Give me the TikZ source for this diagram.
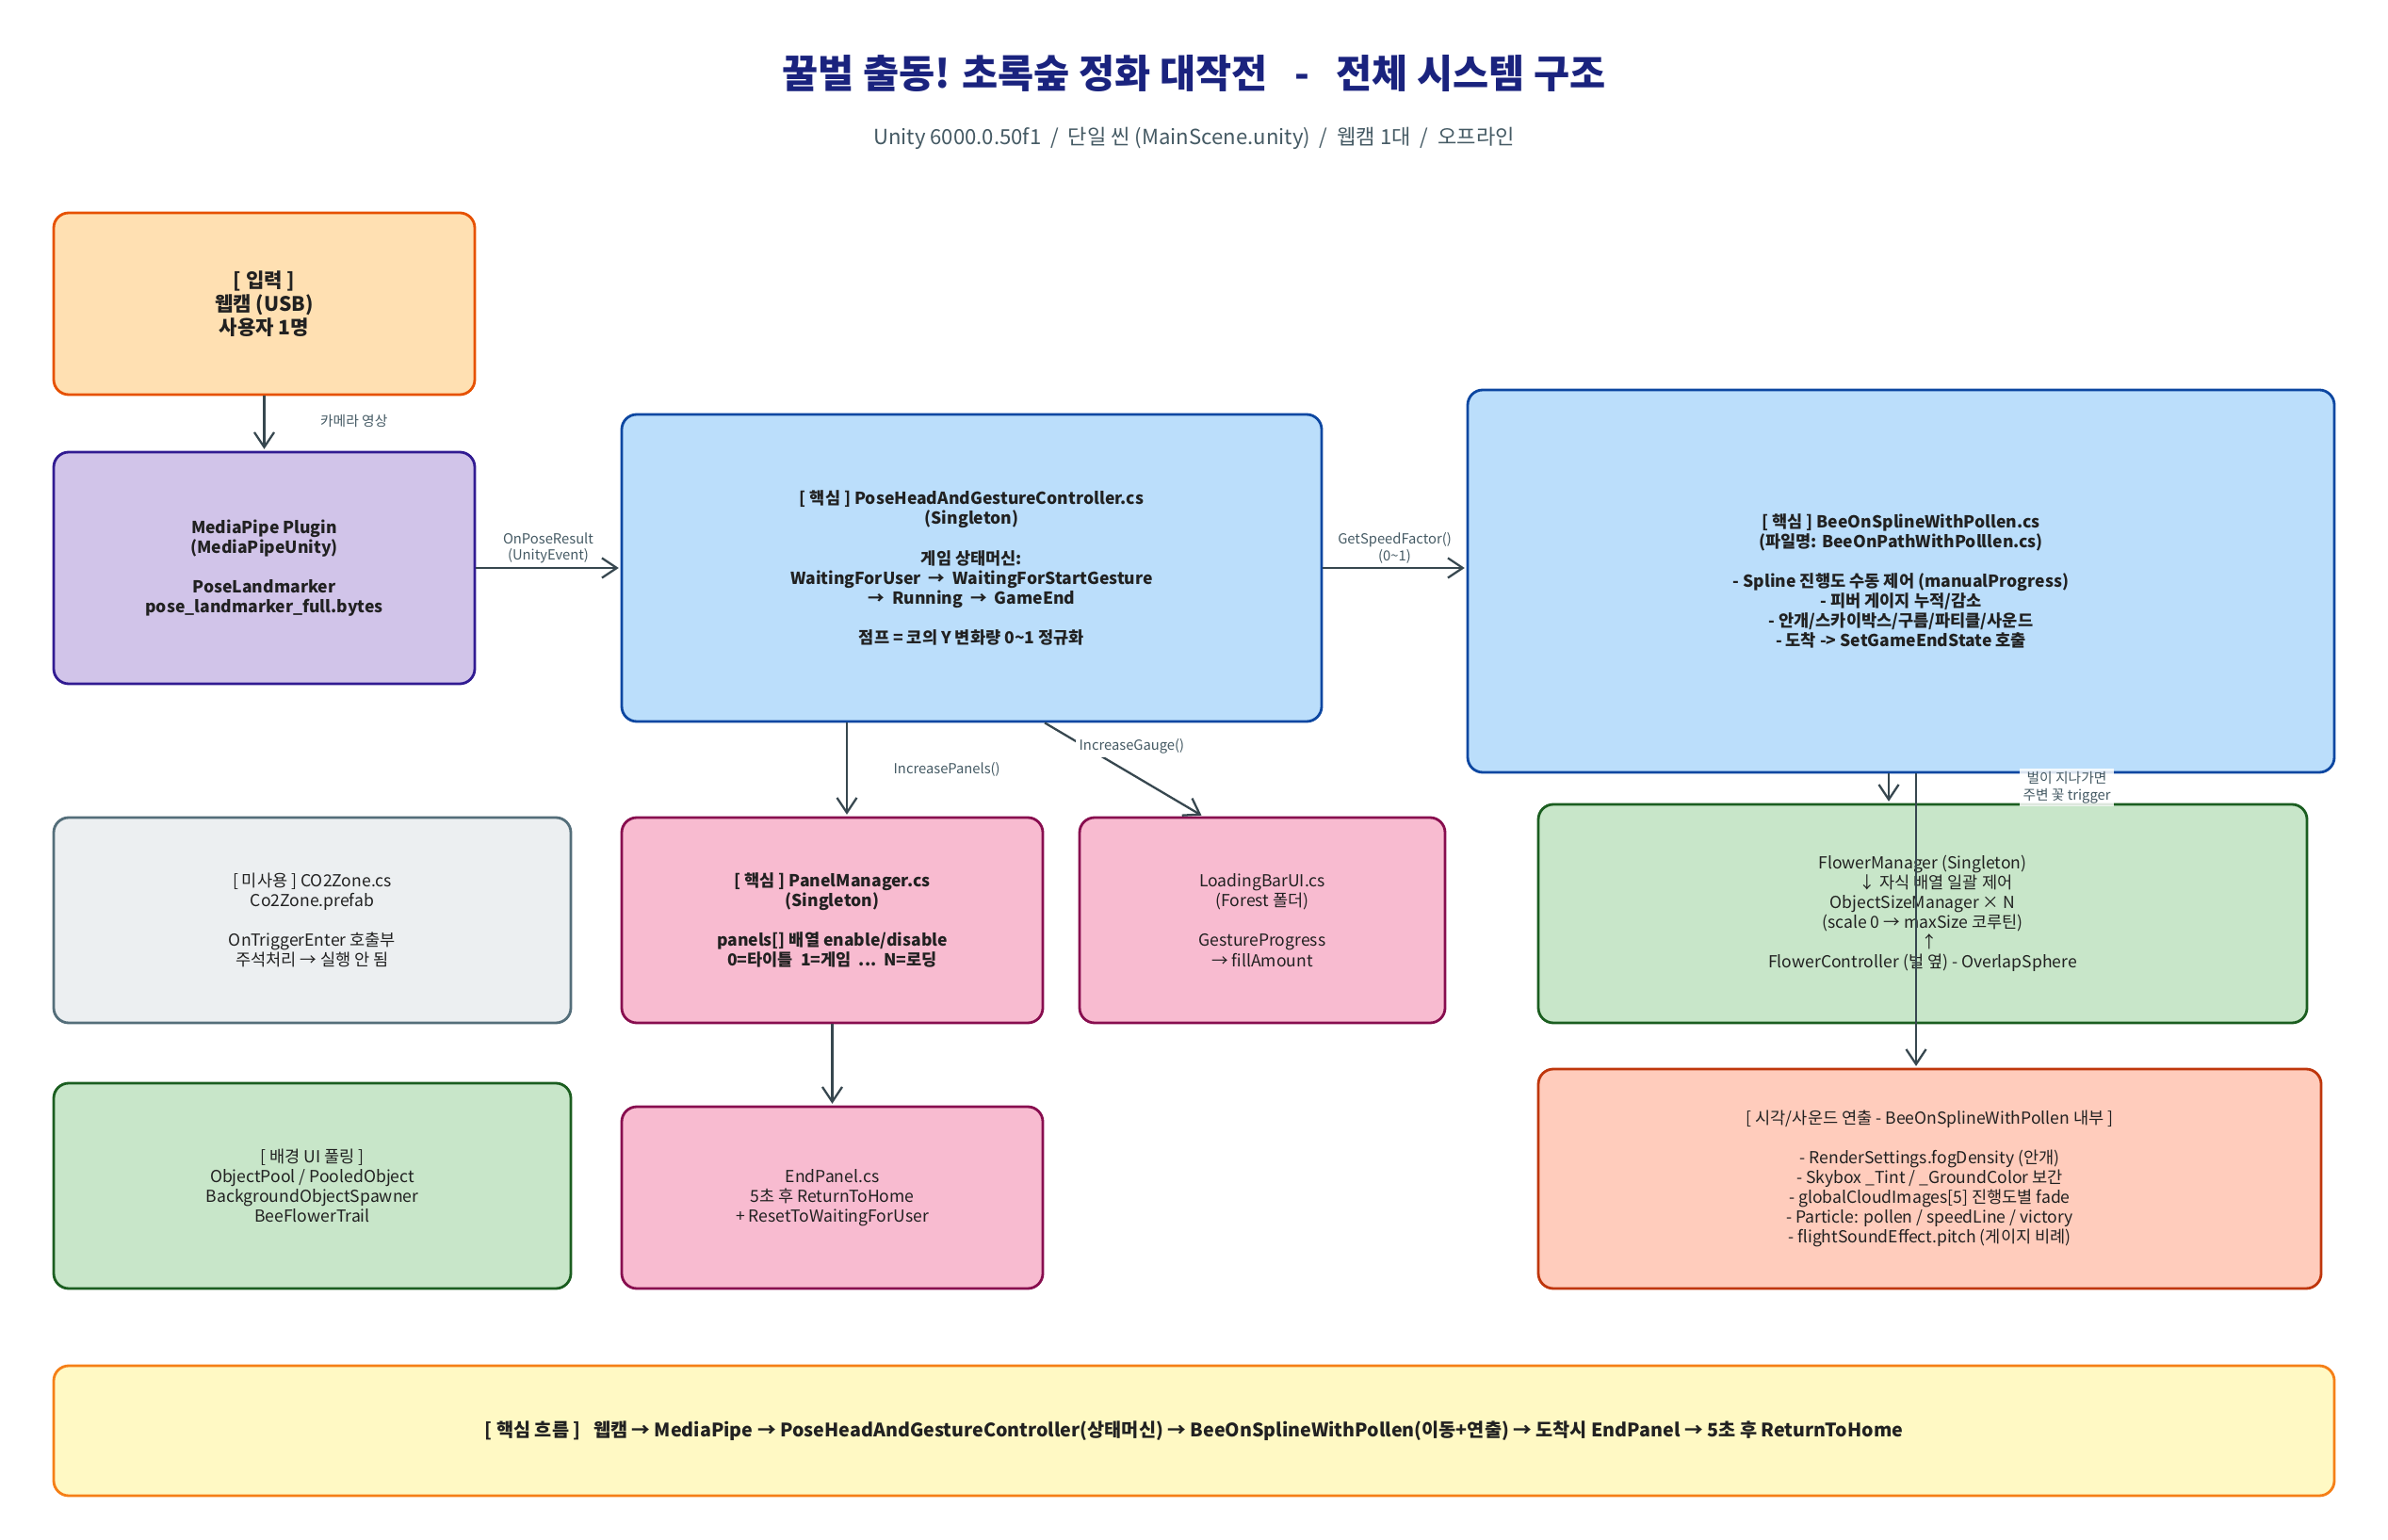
\documentclass[tikz,border=0pt]{standalone}
\usepackage{fontspec}
\setmainfont{Noto Sans CJK KR}
\usetikzlibrary{
        arrows.meta,
        calc,
        positioning
    }
\definecolor{inputfill}{HTML}{FFE0B2}
\definecolor{inputline}{HTML}{E65100}
\definecolor{mpfill}{HTML}{D1C4E9}
\definecolor{mpline}{HTML}{311B92}
\definecolor{corefill}{HTML}{BBDEFB}
\definecolor{coreline}{HTML}{0D47A1}
\definecolor{unusedfill}{HTML}{ECEFF1}
\definecolor{unusedline}{HTML}{546E7A}
\definecolor{greenfill}{HTML}{C8E6C9}
\definecolor{greenline}{HTML}{1B5E20}
\definecolor{pinkfill}{HTML}{F8BBD0}
\definecolor{pinkline}{HTML}{880E4F}
\definecolor{fxfill}{HTML}{FFCCBC}
\definecolor{fxline}{HTML}{BF360C}
\definecolor{flowfill}{HTML}{FFF9C4}
\definecolor{flowline}{HTML}{F57F17}
\definecolor{titlecol}{HTML}{1A237E}
\definecolor{subcol}{HTML}{455A64}
\definecolor{arrowcol}{HTML}{37474F}
\definecolor{textdark}{HTML}{212121}
\tikzset{>={Straight Barb[length=4.5pt,width=6pt]},shorten >=0.5pt}
\tikzset{
    box/.style={draw,rounded corners=0.16cm,line width=0.8pt,align=center,
        text=textdark,inner sep=2pt,font=\fontsize{5}{6}\selectfont},
    boldbox/.style={box,font=\fontsize{5}{6}\selectfont\bfseries},
    lbl/.style={font=\fontsize{4.2}{5}\selectfont,text=subcol,align=center,inner sep=1pt}
}

\begin{document}
\begin{tikzpicture}
            \useasboundingbox (0,0) rectangle (25.35,-16.35);
            \node[font=\fontsize{11.8}{14}\selectfont\bfseries,text=titlecol] (title) at (12.675,-0.78)
                {꿀벌 출동! 초록숲 정화 대작전~~~-~~~전체 시스템 구조};
            \node[font=\fontsize{6.3}{7.5}\selectfont,text=subcol] (subtitle) at (12.675,-1.47)
                {Unity 6000.0.50f1~~/~~단일 씬 (MainScene.unity)~~/~~웹캠 1대~~/~~오프라인};
            % row 1
            \node[boldbox,fill=inputfill,draw=inputline,minimum width=4.47cm,minimum height=1.93cm,
                font=\fontsize{6}{7.1}\selectfont\bfseries] (input) at (2.805,-3.225)
                {[ 입력 ]\\웹캠 (USB)\\사용자 1명};
            \node[boldbox,fill=mpfill,draw=mpline,minimum width=4.47cm,minimum height=2.46cm] (mp) at (2.805,-6.03)
                {MediaPipe Plugin\\(MediaPipeUnity)\\[6pt]PoseLandmarker\\pose\_landmarker\_full.bytes};
            \node[boldbox,fill=corefill,draw=coreline,minimum width=7.43cm,minimum height=3.26cm] (ctrl) at (10.315,-6.03)
                {[ 핵심 ] PoseHeadAndGestureController.cs\\(Singleton)\\[6pt]게임 상태머신:\\
                 WaitingForUser~~→~~WaitingForStartGesture\\→~~Running~~→~~GameEnd\\[6pt]
                 점프 = 코의 Y 변화량 0\textasciitilde1 정규화};
            \node[boldbox,fill=corefill,draw=coreline,minimum width=9.2cm,minimum height=4.06cm] (bee) at (20.18,-6.17)
                {[ 핵심 ] BeeOnSplineWithPollen.cs\\(파일명: BeeOnPathWithPolllen.cs)\\[6pt]
                 - Spline 진행도 수동 제어 (manualProgress)\\- 피버 게이지 누적/감소\\
                 - 안개/스카이박스/구름/파티클/사운드\\- 도착 -> SetGameEndState 호출};
            % row 2
            \node[box,fill=unusedfill,draw=unusedline,minimum width=5.49cm,minimum height=2.18cm] (co2) at (3.315,-9.77)
                {[ 미사용 ] CO2Zone.cs\\Co2Zone.prefab\\[6pt]OnTriggerEnter 호출부\\주석처리 → 실행 안 됨};
            \node[boldbox,fill=pinkfill,draw=pinkline,minimum width=4.47cm,minimum height=2.18cm] (panel) at (8.835,-9.77)
                {[ 핵심 ] PanelManager.cs\\(Singleton)\\[6pt]panels[] 배열 enable/disable\\0=타이틀~~1=게임~~...~~N=로딩};
            \node[box,fill=pinkfill,draw=pinkline,minimum width=3.88cm,minimum height=2.18cm] (loading) at (13.40,-9.77)
                {LoadingBarUI.cs\\(Forest 폴더)\\[6pt]GestureProgress\\→ fillAmount};
            \node[box,fill=greenfill,draw=greenline,minimum width=8.16cm,minimum height=2.32cm] (flower) at (20.41,-9.70)
                {FlowerManager (Singleton)\\\hspace*{1.6em}↓ 자식 배열 일괄 제어\\ObjectSizeManager × N\\
                 (scale 0 → maxSize 코루틴)\\\hspace*{0.8em}↑\\FlowerController (벌 옆) - OverlapSphere};
            % row 3
            \node[box,fill=greenfill,draw=greenline,minimum width=5.49cm,minimum height=2.18cm] (bgui) at (3.315,-12.59)
                {[ 배경 UI 풀링 ]\\ObjectPool / PooledObject\\BackgroundObjectSpawner\\BeeFlowerTrail};
            \node[box,fill=pinkfill,draw=pinkline,minimum width=4.47cm,minimum height=1.93cm] (endp) at (8.835,-12.715)
                {EndPanel.cs\\5초 후 ReturnToHome\\+ ResetToWaitingForUser};
            \node[box,fill=fxfill,draw=fxline,minimum width=8.31cm,minimum height=2.33cm] (visual) at (20.485,-12.515)
                {[ 시각/사운드 연출 - BeeOnSplineWithPollen 내부 ]\\[6pt]- RenderSettings.fogDensity (안개)\\
                 - Skybox \_Tint / \_GroundColor 보간\\- globalCloudImages[5] 진행도별 fade\\
                 - Particle: pollen / speedLine / victory\\- flightSoundEffect.pitch (게이지 비례)};
            % summary
            \node[boldbox,fill=flowfill,draw=flowline,minimum width=24.21cm,minimum height=1.38cm,
                font=\fontsize{5.6}{6.6}\selectfont\bfseries] (flow) at (12.675,-15.19)
                {[ 핵심 흐름 ]~~~웹캠 → MediaPipe → PoseHeadAndGestureController(상태머신) → BeeOnSplineWithPollen(이동+연출) → 도착시 EndPanel → 5초 후 ReturnToHome};
            \coordinate (pm in) at ([xshift=0.155cm]panel.north);
            \coordinate (lb out) at ([xshift=0.775cm]ctrl.south);
            \coordinate (lb in) at ([xshift=-0.63cm]loading.north);
            \coordinate (fm in) at ([xshift=-0.13cm]bee.south);
            \coordinate (vs in) at ([xshift=0.16cm]bee.south);
            \path[->,arrowcol,line width=0.65pt]
                (input) edge node[lbl,right,xshift=0.55cm,pos=0.45] {카메라 영상} (mp)
                (mp) edge node[lbl,above] {OnPoseResult\\(UnityEvent)} (ctrl)
                (ctrl.east) edge node[lbl,above] {GetSpeedFactor()\\(0\textasciitilde1)} (ctrl.east -| bee.west)
                (pm in |- ctrl.south) edge node[lbl,right,xshift=0.45cm] {IncreasePanels()} (pm in)
                (lb out) edge node[lbl,pos=0.25,anchor=west,xshift=-0.1cm,fill=white] {IncreaseGauge()} (lb in)
                (panel) edge (endp)
                (fm in) edge (fm in |- flower.north)
                (vs in) edge (vs in |- visual.north)
            ;
            \node[lbl,fill=white,fill opacity=0.85,text opacity=1] (trig) at (21.94,-8.36)
                {벌이 지나가면\\주변 꽃 trigger};
        \end{tikzpicture}
\end{document}
